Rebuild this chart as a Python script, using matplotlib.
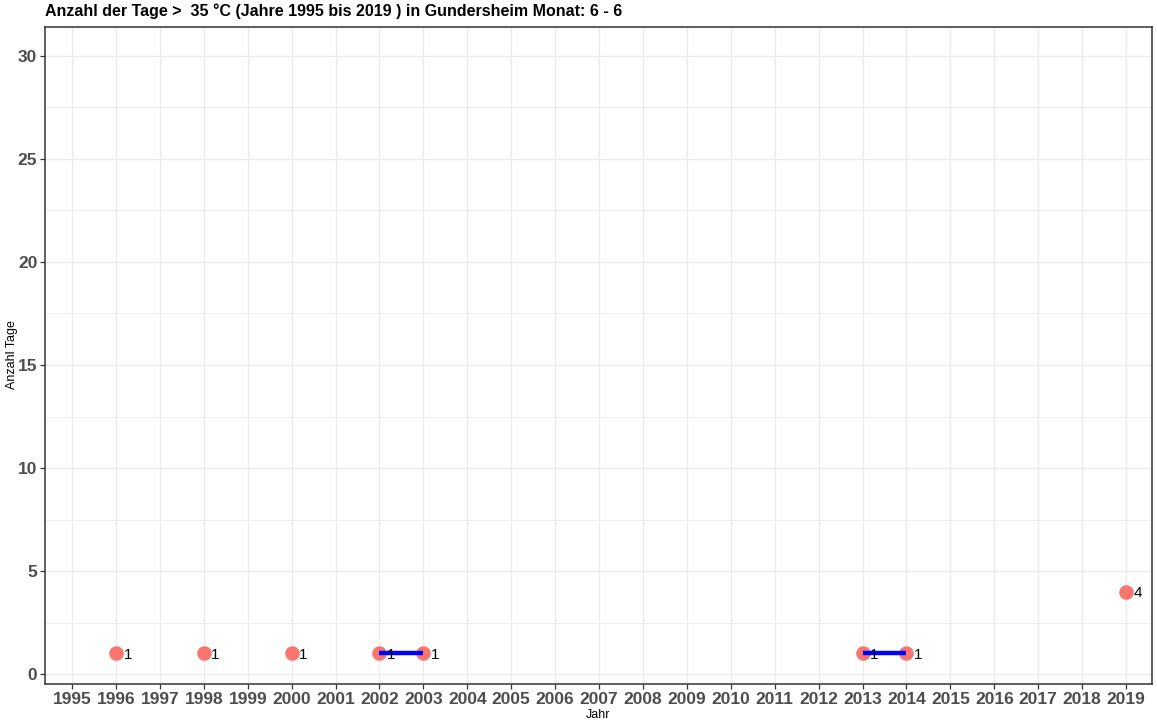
import matplotlib

matplotlib.use("Agg")
import matplotlib.pyplot as plt
from matplotlib.ticker import MultipleLocator

plt.rcParams["font.family"] = ["Liberation Sans", "DejaVu Sans"]

years = [1996, 1998, 2000, 2002, 2003, 2013, 2014, 2019]
days = [1, 1, 1, 1, 1, 1, 1, 4]
# runs of consecutive years, joined by a blue line
runs = [(2002, 2003), (2013, 2014)]
tick_years = list(range(1995, 2020))

_POINT = "#F8766D"
_GRID = "#EBEBEB"
_TICK = "#4D4D4D"

fig = plt.figure(figsize=(11.57, 7.26), dpi=100)
ax = fig.add_axes([45 / 1157, 1 - 684 / 726, (1152 - 45) / 1157, (684 - 27) / 726])

ax.scatter(years, days, s=110, color=_POINT, zorder=3, linewidths=0)
for a, b in runs:
    ya = days[years.index(a)]
    yb = days[years.index(b)]
    ax.plot([a, b], [ya, yb], color="#0000FF", lw=3.2, zorder=4, solid_capstyle="butt")
for x, y in zip(years, days):
    ax.text(x + 0.17, y - 0.07, str(y), fontsize=11, ha="left", va="center", zorder=5)

ax.set_xlim(1994.385, 2019.59)
ax.set_ylim(-0.48, 31.4)
ax.set_xticks(tick_years)
ax.set_xticklabels([str(y) for y in tick_years])
ax.yaxis.set_major_locator(MultipleLocator(5))
ax.yaxis.set_minor_locator(MultipleLocator(2.5))

ax.grid(True, which="major", color=_GRID, lw=1.0, zorder=0)
ax.grid(True, which="minor", axis="y", color=_GRID, lw=0.6, zorder=0)
ax.set_axisbelow(True)
for s in ax.spines.values():
    s.set_color("#333333")
    s.set_linewidth(1.1)
ax.tick_params(axis="both", which="major", length=3.5, width=0.9, color="#333333",
               labelcolor=_TICK, labelsize=12.5, pad=2)
ax.tick_params(axis="both", which="minor", length=0)
for lbl in ax.get_xticklabels() + ax.get_yticklabels():
    lbl.set_fontweight("bold")

ax.set_xlabel("Jahr", fontsize=9, labelpad=2)
fig.text(12 / 1157, 1 - 355 / 726, "Anzahl Tage", fontsize=9, rotation=90,
         ha="center", va="center")
fig.text(45 / 1157, 1 - 11 / 726, "Anzahl der Tage >  35 °C (Jahre 1995 bis 2019 ) in Gundersheim Monat: 6 - 6",
         fontsize=11.5, fontweight="bold", ha="left", va="center")

fig.savefig("out.png", dpi=100)
